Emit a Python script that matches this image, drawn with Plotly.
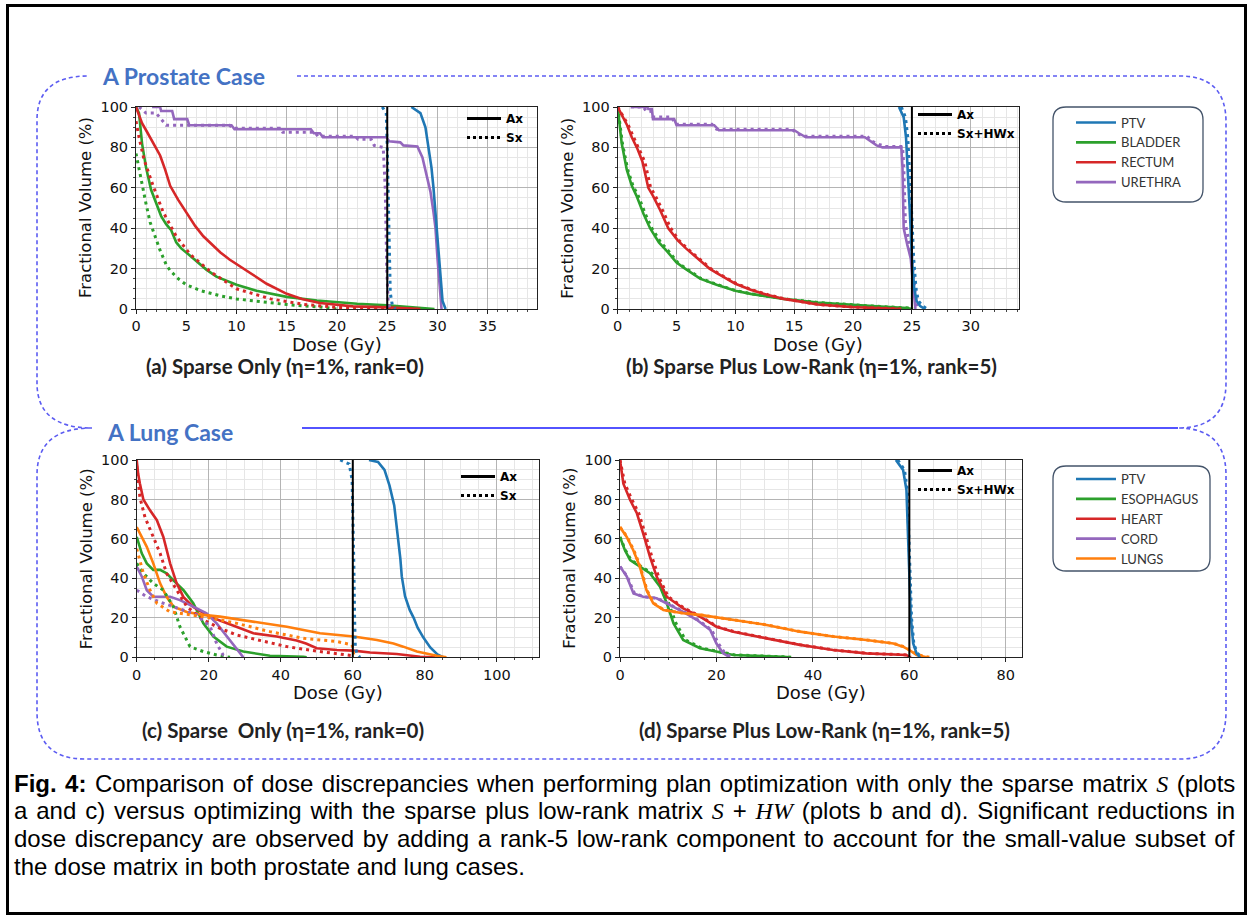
import plotly.graph_objects as go

W, H = 1248, 916

# ---------------- DATA ----------------
prostate_rx = [25, 25]
lung_rx = [60, 60]
rx_vol = [0, 100]

# (a) prostate, sparse only
a_ptv_ax_d = [27.4, 28.3, 28.8, 29.1, 29.4, 29.6, 29.9, 30.2, 30.5, 30.8]
a_ptv_ax_v = [100, 97, 90, 80, 70, 60, 40, 20, 4, 0]
a_ptv_sx_d = [24.5, 24.9, 25.0, 25.1, 25.2, 25.3, 25.5, 25.8]
a_ptv_sx_v = [100, 97, 80, 50, 25, 8, 2, 0]
a_bla_ax_d = [0, 0.3, 0.6, 1.0, 1.5, 2.0, 2.5, 3.0, 3.5, 4.0, 4.5, 5.0, 6.0, 7.0, 8.0, 10, 12, 15, 18, 20, 22, 25, 28, 29.7]
a_bla_ax_v = [100, 97, 82, 70, 59, 52, 46, 42, 39, 33, 30, 28, 23.5, 19.5, 16, 12, 9, 6, 4.2, 3.3, 2.6, 1.8, 0.8, 0]
a_bla_sx_d = [0, 0.5, 1.0, 1.4, 2.0, 2.4, 3.0, 3.4, 4.2, 5, 6.5, 8.4, 10, 11.7, 15, 18.3, 20]
a_bla_sx_v = [77, 64, 52, 43, 34, 29, 22, 19, 15, 12, 9, 6.5, 5, 4, 2.2, 1, 0]
a_rec_ax_d = [0, 0.2, 0.6, 1.06, 1.7, 2.4, 2.9, 3.4, 4.2, 5.0, 5.9, 6.7, 7.5, 8.4, 9.3, 10.7, 11.7, 13, 15, 16.5, 18.3, 21.6, 25, 28.3]
a_rec_ax_v = [100, 97, 92, 88, 82, 76, 69, 61, 54, 48, 41, 36, 32, 28, 24.5, 20, 16.5, 12.5, 7.5, 5, 3, 1.3, 0.8, 0]
a_rec_sx_d = [0, 0.3, 0.8, 1.7, 2.7, 4.0, 5.4, 7.4, 10, 13.4, 16.7, 20, 25, 28]
a_rec_sx_v = [93, 85, 74, 61, 48, 36, 27, 18.5, 10, 5, 2.3, 0.8, 0.3, 0]
a_ure_ax_d = [1.6, 2.4, 2.5, 3.6, 3.8, 5.1, 5.3, 9.5, 9.8, 17.4, 17.7, 18.3, 18.6, 24.9, 25.2, 26.3, 26.6, 28.0, 28.5, 29.0, 29.3, 29.6, 29.8, 30.0, 30.2, 30.4]
a_ure_ax_v = [100, 100, 98, 98, 94, 94, 91, 91, 89, 89, 87, 87, 85, 85, 83, 82.5, 81, 80.5, 75, 65, 58, 48, 40, 25, 10, 0]
a_ure_sx_d = [0.3, 0.5, 1.0, 2.0, 2.5, 3.0, 9.3, 9.6, 14.3, 14.6, 17.8, 18.1, 21.8, 22.1, 23.4, 23.7, 24.6, 24.8, 24.95, 25.1, 25.3]
a_ure_sx_v = [100, 99, 97, 97, 94, 91, 91, 89.5, 89.5, 87.5, 87.5, 85.5, 85.5, 84, 84, 81, 80, 60, 20, 3, 0]

# (b) prostate, sparse plus low-rank
b_ptv_ax_d = [23.9, 24.3, 24.5, 24.7, 24.85, 25.0, 25.2, 25.4, 25.7, 26.1]
b_ptv_ax_v = [100, 95, 85, 65, 45, 25, 10, 4, 1.5, 0]
b_ptv_sx_d = [24.1, 24.45, 24.65, 24.85, 25.0, 25.15, 25.35, 25.55, 25.9, 26.3]
b_ptv_sx_v = [100, 95, 85, 65, 45, 25, 10, 4, 1.5, 0]
b_bla_ax_d = [0, 0.2, 0.34, 0.77, 1.2, 1.6, 2.2, 2.75, 3.5, 4.2, 5.0, 5.6, 7, 8.4, 10, 11.3, 14.1, 17, 19.8, 22, 24.6, 25]
b_bla_ax_v = [100, 90, 82, 69, 61, 56, 47, 40, 33, 28.5, 23, 20.5, 15, 12, 9, 7.5, 5, 3.2, 2, 1.3, 0.5, 0]
b_bla_sx_d = [0, 0.25, 0.4, 0.85, 1.3, 1.75, 2.35, 2.9, 3.65, 4.35, 5.1, 5.7, 7.1, 8.5, 10.1, 11.4, 14.2, 17.1, 19.9, 22.1, 24.7, 25.1]
b_bla_sx_v = [100, 90, 82, 69, 61, 56, 47, 40, 33, 28.5, 23, 20.5, 15, 12, 9, 7.5, 5, 3.2, 2, 1.3, 0.5, 0]
b_rec_ax_d = [0, 0.34, 0.8, 1.2, 1.7, 2.1, 2.6, 3.0, 3.6, 4.3, 5.1, 5.8, 7.2, 7.8, 8.5, 10, 11.3, 12.7, 14.1, 15.5, 17, 19.8, 22.7, 24]
b_rec_ax_v = [100, 96, 91, 85, 79, 73, 60, 56, 49, 40, 34, 30, 23, 20, 17.5, 12.5, 9.5, 7, 5, 3.5, 2.2, 1, 0.3, 0]
b_rec_sx_d = [0, 0.4, 0.9, 1.35, 1.85, 2.3, 2.8, 3.2, 3.8, 4.5, 5.2, 5.9, 7.3, 7.9, 8.6, 10.1, 11.4, 12.8, 14.2, 15.6, 17.1, 19.9, 22.8, 24.1]
b_rec_sx_v = [100, 96, 91, 85, 79, 73, 60, 56, 49, 40, 34, 30, 23, 20, 17.5, 12.5, 9.5, 7, 5, 3.5, 2.2, 1, 0.3, 0]
b_ure_ax_d = [1.3, 2.5, 2.6, 2.9, 3.0, 4.8, 5.0, 8.2, 8.6, 15.0, 15.4, 16.0, 21.0, 21.5, 22.0, 22.5, 24.1, 24.2, 24.3, 24.6, 24.9, 25.1, 25.3]
b_ure_ax_v = [100, 100, 99, 99, 94, 94, 91, 91, 88.5, 88.5, 87, 85, 85, 83, 81, 80, 80, 70, 40, 32, 25, 12, 0]
b_ure_sx_d = [1.1, 2.2, 2.4, 2.8, 3.0, 4.6, 4.9, 8.0, 8.4, 14.8, 15.2, 15.8, 21.2, 21.6, 22.2, 22.7, 24.2, 24.3, 24.45, 24.75, 25.0, 25.2, 25.45]
b_ure_sx_v = [100, 100, 98, 98, 95, 95, 91.5, 91.5, 89, 89, 87, 85.5, 85.5, 83, 81.5, 80.5, 80.5, 72, 42, 33, 26, 12, 0]

# (c) lung, sparse only
c_ptv_ax_d = [64.5, 67, 68.8, 70.2, 71.5, 72.2, 72.7, 73.2, 73.6, 74.5, 75.8, 76.9, 78, 79.6, 81.5, 83.5, 85.2]
c_ptv_ax_v = [100, 99, 95, 87, 77, 66, 60, 50, 41, 31, 24, 20, 15, 10, 5, 1.5, 0]
c_ptv_sx_d = [56.5, 59.0, 59.8, 60.1, 60.3, 60.5, 60.7, 61.2, 62]
c_ptv_sx_v = [100, 98, 90, 70, 46, 20, 5, 1.5, 0]
c_eso_ax_d = [0, 1.4, 2.8, 4.6, 6.5, 8.3, 10.2, 13, 15.7, 18.5, 21.3, 25, 29.6, 37, 46.3, 47.2]
c_eso_ax_v = [61, 52.7, 47.6, 44.3, 44.3, 42.6, 39, 34, 27.4, 17.2, 10.5, 5.4, 2.9, 0.8, 0.2, 0]
c_eso_sx_d = [0, 1.85, 4.6, 7.4, 10.2, 12, 14.8, 18.5, 22.2, 25.9]
c_eso_sx_v = [47.6, 42.6, 37.5, 34, 25.7, 15.5, 5.4, 2.9, 1.2, 0]
c_hea_ax_d = [0, 0.4, 0.9, 1.85, 3.7, 5.6, 7.4, 9.3, 11.1, 13, 15.7, 20.4, 24, 27.8, 32.4, 38.9, 44.4, 47, 50, 55.6, 60.2, 64.8, 72.2, 78.7, 83]
c_hea_ax_v = [100, 93, 88, 80, 74.5, 69.5, 61, 47.5, 37.5, 30.5, 25.5, 20.5, 18, 15.5, 12.2, 10.5, 8.5, 7, 4.6, 3.7, 3.4, 2.4, 1.7, 0.3, 0]
c_hea_sx_d = [0, 0.9, 2.3, 4.6, 6.5, 8.3, 11.1, 13.9, 18.5, 23.1, 27.8, 35.2, 41.7, 50.9, 58.3, 60.0, 60.2]
c_hea_sx_v = [97, 81, 71, 61, 52.7, 42.6, 34, 25.7, 19, 14.7, 11.3, 8, 5.4, 2.9, 1.2, 0.8, 0]
c_cor_ax_d = [0, 1.4, 2.8, 4.6, 9.3, 12, 15.7, 19.4, 22.2, 25, 27.8, 29.6]
c_cor_ax_v = [46, 41, 34, 30.7, 30.7, 29, 25.7, 22.3, 17.2, 10.5, 3.7, 0]
c_cor_sx_d = [0, 2.8, 7.4, 13, 16.7, 20.4, 22.2, 24, 25]
c_cor_sx_v = [34, 30.7, 27.4, 24, 21.5, 15.5, 7, 1.2, 0]
c_lun_ax_d = [0, 1.4, 2.8, 4.6, 6.5, 8.3, 10.2, 13.9, 18.5, 23.1, 32.4, 41.7, 50.9, 60.2, 66.7, 71.3, 74, 77.8, 83.3, 86]
c_lun_ax_v = [66, 61, 56, 47.6, 37.5, 30.7, 25.7, 23, 21.5, 20.6, 18, 15.5, 12.2, 10.5, 8.8, 7, 5.4, 2.9, 0.8, 0]
c_lun_sx_d = [0, 1.85, 3.7, 5.6, 9.3, 18.5, 27.8, 37, 46.3, 55.6, 59.8, 60.1, 60.4]
c_lun_sx_v = [55, 42.6, 34, 27.4, 23, 20.6, 17.2, 13, 9.6, 8, 6.3, 2, 0]

# (d) lung, sparse plus low-rank
d_ptv_ax_d = [57.2, 58.7, 59.4, 59.8, 60.3, 60.8, 61.5, 62.2]
d_ptv_ax_v = [100, 95, 84.8, 54, 20.6, 7, 2, 0]
d_ptv_sx_d = [57.6, 59.0, 59.6, 60.0, 60.45, 60.95, 61.7, 62.5]
d_ptv_sx_v = [100, 95, 84, 54, 20, 6.5, 2, 0]
d_eso_ax_d = [0, 1, 2.1, 4.1, 6.2, 8.3, 9.7, 11.1, 13.1, 16.6, 20, 23.5, 33.9, 35.2]
d_eso_ax_v = [61, 54.4, 49.3, 46, 42.6, 35.8, 27.4, 17.2, 8.8, 4.6, 2.9, 1.2, 0.2, 0]
d_eso_sx_d = [0, 1.1, 2.3, 4.4, 6.6, 8.7, 10.1, 11.6, 13.6, 17.0, 20.4, 23.9, 34.3, 35.5]
d_eso_sx_v = [61, 54.4, 49.3, 46, 42.6, 35.8, 27.4, 17.2, 8.8, 4.6, 2.9, 1.2, 0.2, 0]
d_hea_ax_d = [0, 0.7, 2.1, 3.5, 4.8, 6.2, 7.6, 9.7, 13.1, 16.6, 20, 23.5, 30.4, 37.3, 44.2, 51.1, 59.4, 60.1]
d_hea_ax_v = [100, 88, 79.7, 73, 62.8, 51, 40.9, 30.7, 24.8, 20.6, 15.5, 13, 9.6, 6.3, 3.7, 2, 1.2, 0]
d_hea_sx_d = [0, 1.0, 2.5, 3.9, 5.2, 6.6, 8.0, 10.0, 13.4, 16.8, 20.2, 23.7, 30.6, 37.5, 44.4, 51.3, 59.6, 60.3]
d_hea_sx_v = [100, 88, 79.7, 73, 62.8, 51, 40.9, 30.7, 24.8, 20.6, 15.5, 13, 9.6, 6.3, 3.7, 2, 1.2, 0]
d_cor_ax_d = [0, 1.4, 2.8, 4.8, 7.6, 9.7, 13.1, 15.9, 18.7, 20, 21.4, 22.8]
d_cor_ax_v = [46, 41, 32.4, 30.7, 29.9, 27.4, 23, 19, 13.9, 7, 2, 0]
d_cor_sx_d = [0, 1.5, 3.0, 5.0, 7.8, 9.9, 13.3, 16.1, 19.0, 20.4, 21.8, 23.2]
d_cor_sx_v = [46, 41, 32.4, 30.7, 29.9, 27.4, 23, 19, 13.9, 7, 2, 0]
d_lun_ax_d = [0, 1.4, 2.8, 4.1, 5.5, 6.9, 9, 13.1, 16.6, 23.5, 30.4, 37.3, 44.2, 51.1, 56.7, 58.7, 60, 61.5, 63.6]
d_lun_ax_v = [66, 61, 54, 46, 34, 27.4, 24, 22.3, 21.5, 19, 16.4, 13, 10.5, 8.8, 7, 5.4, 3.7, 1.2, 0]
d_lun_sx_d = [0, 1.5, 2.9, 4.2, 5.6, 7.0, 9.1, 13.2, 16.7, 23.6, 30.5, 37.4, 44.3, 51.2, 56.8, 58.9, 60.2, 61.8, 64.2]
d_lun_sx_v = [66, 61, 54, 46, 34, 27.4, 24, 22.3, 21.5, 19, 16.4, 13, 10.5, 8.8, 7, 5.4, 3.7, 1.2, 0]

# ---------------- STYLE ----------------
C_PTV, C_GRN, C_RED, C_PUR, C_ORG = "#1f77b4", "#2ca02c", "#d62728", "#9467bd", "#ff7f0e"
LW = 2.6
DOT = "3px,4px"


def X(px):
    return px / W


def Y(py):
    return 1 - py / H


fig = go.Figure()


def curve(d, v, color, dotted, ax, name=None, legend=None, rank=1000):
    fig.add_trace(go.Scatter(
        x=d, y=v, mode="lines", xaxis="x" + ax, yaxis="y" + ax,
        line=dict(color=color, width=3 if dotted else LW, dash=DOT if dotted else "solid"),
        name=name, showlegend=legend is not None, legend=legend or "legend", legendrank=rank,
        hoverinfo="skip"))


# panel a
curve(a_bla_ax_d, a_bla_ax_v, C_GRN, False, "", "BLADDER", "legend5", 2)
curve(a_rec_ax_d, a_rec_ax_v, C_RED, False, "", "RECTUM", "legend5", 3)
curve(a_bla_sx_d, a_bla_sx_v, C_GRN, True, "")
curve(a_rec_sx_d, a_rec_sx_v, C_RED, True, "")
curve(a_ure_ax_d, a_ure_ax_v, C_PUR, False, "", "URETHRA", "legend5", 4)
curve(a_ure_sx_d, a_ure_sx_v, C_PUR, True, "")
curve(a_ptv_ax_d, a_ptv_ax_v, C_PTV, False, "", "PTV", "legend5", 1)
curve(a_ptv_sx_d, a_ptv_sx_v, C_PTV, True, "")
# panel b
curve(b_bla_ax_d, b_bla_ax_v, C_GRN, False, "2")
curve(b_bla_sx_d, b_bla_sx_v, C_GRN, True, "2")
curve(b_rec_ax_d, b_rec_ax_v, C_RED, False, "2")
curve(b_rec_sx_d, b_rec_sx_v, C_RED, True, "2")
curve(b_ure_ax_d, b_ure_ax_v, C_PUR, False, "2")
curve(b_ure_sx_d, b_ure_sx_v, C_PUR, True, "2")
curve(b_ptv_ax_d, b_ptv_ax_v, C_PTV, False, "2")
curve(b_ptv_sx_d, b_ptv_sx_v, C_PTV, True, "2")
# panel c
curve(c_ptv_ax_d, c_ptv_ax_v, C_PTV, False, "3", "PTV", "legend6", 1)
curve(c_eso_ax_d, c_eso_ax_v, C_GRN, False, "3", "ESOPHAGUS", "legend6", 2)
curve(c_hea_ax_d, c_hea_ax_v, C_RED, False, "3", "HEART", "legend6", 3)
curve(c_cor_ax_d, c_cor_ax_v, C_PUR, False, "3", "CORD", "legend6", 4)
curve(c_lun_ax_d, c_lun_ax_v, C_ORG, False, "3", "LUNGS", "legend6", 5)
curve(c_eso_sx_d, c_eso_sx_v, C_GRN, True, "3")
curve(c_hea_sx_d, c_hea_sx_v, C_RED, True, "3")
curve(c_cor_sx_d, c_cor_sx_v, C_PUR, True, "3")
curve(c_lun_sx_d, c_lun_sx_v, C_ORG, True, "3")
curve(c_ptv_sx_d, c_ptv_sx_v, C_PTV, True, "3")
# panel d
curve(d_eso_ax_d, d_eso_ax_v, C_GRN, False, "4")
curve(d_eso_sx_d, d_eso_sx_v, C_GRN, True, "4")
curve(d_hea_ax_d, d_hea_ax_v, C_RED, False, "4")
curve(d_hea_sx_d, d_hea_sx_v, C_RED, True, "4")
curve(d_cor_ax_d, d_cor_ax_v, C_PUR, False, "4")
curve(d_cor_sx_d, d_cor_sx_v, C_PUR, True, "4")
curve(d_lun_ax_d, d_lun_ax_v, C_ORG, False, "4")
curve(d_lun_sx_d, d_lun_sx_v, C_ORG, True, "4")
curve(d_ptv_ax_d, d_ptv_ax_v, C_PTV, False, "4")
curve(d_ptv_sx_d, d_ptv_sx_v, C_PTV, True, "4")

# prescription lines
for ax, rx in [("", prostate_rx), ("2", prostate_rx), ("3", lung_rx), ("4", lung_rx)]:
    fig.add_trace(go.Scatter(x=rx, y=rx_vol, mode="lines", xaxis="x" + ax, yaxis="y" + ax,
                             line=dict(color="black", width=2), showlegend=False, hoverinfo="skip"))

# Ax / Sx legend entries
for leg, second in [("legend", "Sx"), ("legend2", "Sx+HWx"), ("legend3", "Sx"), ("legend4", "Sx+HWx")]:
    fig.add_trace(go.Scatter(x=[None], y=[None], mode="lines", name="Ax", legend=leg,
                             line=dict(color="black", width=3)))
    fig.add_trace(go.Scatter(x=[None], y=[None], mode="lines", name=second, legend=leg,
                             line=dict(color="black", width=3, dash="dot")))

# ---------------- AXES ----------------
panels = {
    "": dict(x=(136, 537), y=(107, 309), r=39.9, dt=5, mdt=1),
    "2": dict(x=(617.7, 1019), y=(107, 309), r=34.1, dt=5, mdt=1),
    "3": dict(x=(136.7, 539), y=(460, 657.3), r=111.7, dt=20, mdt=5),
    "4": dict(x=(620, 1021.7), y=(460, 657.3), r=83.3, dt=20, mdt=5),
}
tickfont = dict(family="DejaVu Sans", size=14.5, color="#111")
common = dict(showline=True, mirror=True, linecolor="#222", linewidth=1, ticks="outside",
              ticklen=4, tickcolor="#222", gridcolor="#b4b4b4", gridwidth=1, zeroline=False,
              tickfont=tickfont, showgrid=True, automargin=False)
lay = {}
for ax, p in panels.items():
    lay["xaxis" + ax] = dict(domain=[X(p["x"][0]), X(p["x"][1])], range=[0, p["r"]], dtick=p["dt"],
                             tick0=0, anchor="y" + ax,
                             minor=dict(dtick=p["mdt"], showgrid=True, gridcolor="#e6e6e6",
                                        ticks="outside", ticklen=2, tickcolor="#444"), **common)
    lay["yaxis" + ax] = dict(domain=[Y(p["y"][1]), Y(p["y"][0])], range=[0, 100], dtick=20,
                             tick0=0, anchor="x" + ax,
                             minor=dict(dtick=5, showgrid=True, gridcolor="#e6e6e6",
                                        ticks="outside", ticklen=2, tickcolor="#444"), **common)

leg_common = dict(bgcolor="rgba(0,0,0,0)", borderwidth=0, xanchor="left", yanchor="top",
                  tracegroupgap=0, itemclick=False, itemdoubleclick=False)
axfont = dict(family="DejaVu Sans", size=12, color="#000", weight="bold")
orgfont = dict(family="Lato", size=13, color="#333")
lay["legend"] = dict(x=X(462), y=Y(104), font=axfont, itemwidth=34, **leg_common)
lay["legend2"] = dict(x=X(913), y=Y(100), font=axfont, itemwidth=34, **leg_common)
lay["legend3"] = dict(x=X(456), y=Y(462), font=axfont, itemwidth=34, **leg_common)
lay["legend4"] = dict(x=X(913), y=Y(456), font=axfont, itemwidth=34, **leg_common)
lay["legend5"] = dict(x=X(1071), y=Y(107.5), font=orgfont, itemwidth=40, **leg_common)
lay["legend6"] = dict(x=X(1071), y=Y(464), font=orgfont, itemwidth=40, **leg_common)


# ---------------- SHAPES ----------------
def path(cmds):
    out = []
    for c in cmds:
        op, pts = c[0], c[1:]
        s = op
        for (px, py) in pts:
            s += " %.5f,%.5f" % (X(px), Y(py))
        out.append(s)
    return " ".join(out)


BLUE_D = "#5c5cf2"
shapes = []
dashed = path([
    ("M", (297, 76)), ("L", (1180, 76)), ("Q", (1226, 76), (1226, 122)), ("L", (1226, 383)),
    ("Q", (1226, 428), (1178, 428)), ("Q", (1226, 428), (1226, 475)), ("L", (1226, 712)),
    ("Q", (1226, 759), (1180, 759)), ("L", (85, 759)), ("Q", (37, 759), (37, 712)),
    ("L", (37, 475)), ("Q", (37, 428), (92, 428)), ("Q", (37, 428), (37, 383)),
    ("L", (37, 120)), ("Q", (37, 76), (88, 76)),
])
shapes.append(dict(type="path", path=dashed, xref="paper", yref="paper",
                   line=dict(color=BLUE_D, width=1.6, dash="4px,3px")))
shapes.append(dict(type="line", xref="paper", yref="paper", x0=X(302), x1=X(1178), y0=Y(428), y1=Y(428),
                   line=dict(color="#1a1aff", width=1.4)))


def rrect(x0, y0, x1, y1, r):
    return path([("M", (x0 + r, y0)), ("L", (x1 - r, y0)), ("Q", (x1, y0), (x1, y0 + r)),
                 ("L", (x1, y1 - r)), ("Q", (x1, y1), (x1 - r, y1)), ("L", (x0 + r, y1)),
                 ("Q", (x0, y1), (x0, y1 - r)), ("L", (x0, y0 + r)), ("Q", (x0, y0), (x0 + r, y0))])


for box in [(1053, 107, 1203, 202), (1053, 466, 1210, 571)]:
    shapes.append(dict(type="path", path=rrect(*box, 13), xref="paper", yref="paper",
                       line=dict(color="#44546a", width=1.3)))
shapes.append(dict(type="rect", xref="paper", yref="paper", x0=X(7.5), y0=Y(5.5), x1=X(1245.5), y1=Y(913.5),
                   line=dict(color="black", width=3)))

# ---------------- TEXT ----------------
ann = []


def text(s, px, py, font, xanchor="center", textangle=0):
    ann.append(dict(text=s, x=X(px), y=Y(py), xref="paper", yref="paper", showarrow=False,
                    xanchor=xanchor, yanchor="middle", font=font, textangle=textangle))


titlefont = dict(family="Lato", size=23, color="#4472c4", weight="bold")
text("A Prostate Case", 100, 76, titlefont, "left")
text("A Lung Case", 105, 432, titlefont, "left")

xt = dict(family="DejaVu Sans", size=18, color="#111")
yt = dict(family="DejaVu Sans", size=16.5, color="#111")
for ax, p in panels.items():
    cx = (p["x"][0] + p["x"][1]) / 2
    text("Dose (Gy)", cx, p["y"][1] + 35, xt)
    text("Fractional Volume (%)", p["x"][0] - 50, (p["y"][0] + p["y"][1]) / 2, yt, textangle=-90)

subf = dict(family="Lato", size=20.5, color="#222", weight="bold")
text("(a) Sparse Only (η=1%, rank=0)", 285, 366, subf)
text("(b) Sparse Plus Low-Rank (η=1%, rank=5)", 811, 366, subf)
text("(c) Sparse  Only (η=1%, rank=0)", 283, 730, subf)
text("(d) Sparse Plus Low-Rank (η=1%, rank=5)", 824, 730, subf)

capf = dict(family="Liberation Sans", size=24, color="#000")
SI = "<span style='font-family:Liberation Serif'><i>%s</i></span>"
cap_lines = [
    "<b>Fig. 4:</b> Comparison of dose discrepancies when performing plan optimization with only the sparse matrix " + SI % "S" + " (plots",
    "a and c) versus optimizing with the sparse plus low-rank matrix " + SI % "S" + " + " + SI % "HW" + " (plots b and d). Significant reductions in",
    "dose discrepancy are observed by adding a rank-5 low-rank component to account for the small-value subset of",
    "the dose matrix in both prostate and lung cases.",
]
cap_wordspacing = [1.8, 2.2, 2.15, 0]
for i, line in enumerate(cap_lines):
    s = "<span style='word-spacing:%.2fpx'>%s</span>" % (cap_wordspacing[i], line) if cap_wordspacing[i] else line
    text(s, 12, 783 + i * 27.7, capf, "left")

fig.update_layout(width=W, height=H, margin=dict(l=0, r=0, t=0, b=0, pad=0, autoexpand=False),
                  paper_bgcolor="white", plot_bgcolor="white", shapes=shapes, annotations=ann, **lay)
css_js = ("var s=document.createElement('style');"
          "s.innerHTML='html,body{margin:0!important;padding:0!important;overflow:hidden!important;}';"
          "document.head.appendChild(s);")
fig.write_html("out.html", config={"displayModeBar": False}, post_script=css_js)
